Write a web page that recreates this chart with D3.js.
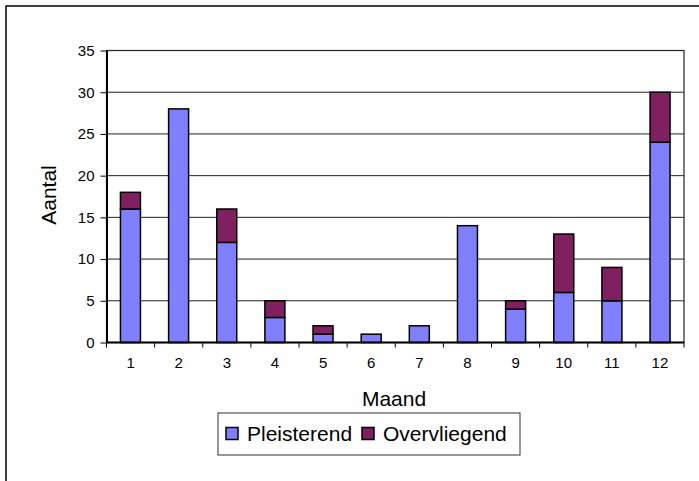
<!DOCTYPE html>
<html>
<head>
<meta charset="utf-8">
<script src="https://cdn.jsdelivr.net/npm/d3@7"></script>
<style>
  body { margin: 0; background: #fff; }
  text { font-family: "Liberation Sans", Arial, sans-serif; fill: #000; }
</style>
</head>
<body>
<div id="chart"></div>
<script>
const months = ["1", "2", "3", "4", "5", "6", "7", "8", "9", "10", "11", "12"];
const pleisterend = [16, 28, 12, 3, 1, 1, 2, 14, 4, 6, 5, 24];
const overvliegend = [2, 0, 4, 2, 1, 0, 0, 0, 1, 7, 4, 6];
const seriesNames = ["Pleisterend", "Overvliegend"];
const seriesColors = ["#8080ff", "#802060"];
const yTicks = [0, 5, 10, 15, 20, 25, 30, 35];

const width = 699, height = 481;
const margin = {top: 50.5, right: 15, bottom: 138.5, left: 106.5};
const innerW = width - margin.left - margin.right;
const innerH = height - margin.top - margin.bottom;

const svg = d3.select("#chart").append("svg")
    .attr("width", width)
    .attr("height", height);

// outer chart border (runs off the right and bottom edge)
svg.append("rect")
    .attr("x", 6).attr("y", 6)
    .attr("width", 720).attr("height", 500)
    .attr("fill", "none")
    .attr("stroke", "#000")
    .attr("stroke-width", 1.5);

const g = svg.append("g")
    .attr("transform", "translate(" + margin.left + "," + margin.top + ")");

const x = d3.scaleBand().domain(months).range([0, innerW]).paddingInner(0.585).paddingOuter(0.29);
const band = d3.scaleBand().domain(months).range([0, innerW]);
const y = d3.scaleLinear().domain([0, 35]).range([innerH, 0]);

// gridlines
g.selectAll(".grid")
    .data(yTicks.filter(d => d > 0 && d < 35))
    .enter().append("line")
    .attr("x1", 0).attr("x2", innerW)
    .attr("y1", d => y(d)).attr("y2", d => y(d))
    .attr("stroke", "#222")
    .attr("stroke-width", 1);

// plot frame
g.append("rect")
    .attr("width", innerW).attr("height", innerH)
    .attr("fill", "none")
    .attr("stroke", "#222")
    .attr("stroke-width", 1.2);

const data = months.map((m, i) => ({month: m, Pleisterend: pleisterend[i], Overvliegend: overvliegend[i]}));
const stacked = d3.stack().keys(seriesNames)(data);

stacked.forEach((layer, li) => {
    g.selectAll(".bar" + li)
        .data(layer.filter(d => d[1] > d[0]))
        .enter().append("rect")
        .attr("x", d => x(d.data.month))
        .attr("width", x.bandwidth())
        .attr("y", d => y(d[1]))
        .attr("height", d => y(d[0]) - y(d[1]))
        .attr("fill", seriesColors[li])
        .attr("stroke", "#000")
        .attr("stroke-width", 1.5);
});

// y axis
const yAxis = g.append("g")
    .call(d3.axisLeft(y).tickValues(yTicks).tickSize(6).tickSizeOuter(0).tickPadding(6));
yAxis.select(".domain").attr("stroke", "#000").attr("stroke-width", 2);
yAxis.selectAll(".tick line").attr("stroke", "#000");
yAxis.selectAll("text").style("font-size", "15px").attr("font-family", null);

// x axis: ticks at band boundaries
const xAxisG = g.append("g").attr("transform", "translate(0," + innerH + ")");
xAxisG.append("line")
    .attr("x1", 0).attr("x2", innerW)
    .attr("stroke", "#000").attr("stroke-width", 2);
xAxisG.selectAll(".xtick")
    .data(months.concat(["end"]))
    .enter().append("line")
    .attr("x1", (d, i) => i * band.step())
    .attr("x2", (d, i) => i * band.step())
    .attr("y1", 0).attr("y2", 5)
    .attr("stroke", "#000");
xAxisG.selectAll(".xlabel")
    .data(months)
    .enter().append("text")
    .attr("x", d => band(d) + band.bandwidth() / 2)
    .attr("y", 25)
    .attr("text-anchor", "middle")
    .style("font-size", "15px")
    .text(d => d);

// axis titles
svg.append("text")
    .attr("x", 394)
    .attr("y", 406)
    .attr("text-anchor", "middle")
    .style("font-size", "21px")
    .text("Maand");

svg.append("text")
    .attr("transform", "translate(56,195) rotate(-90)")
    .attr("text-anchor", "middle")
    .style("font-size", "21px")
    .text("Aantal");

// legend
const legend = svg.append("g").attr("transform", "translate(218,413)");
legend.append("rect")
    .attr("width", 302).attr("height", 42)
    .attr("fill", "#fff")
    .attr("stroke", "#333")
    .attr("stroke-width", 1);

const legendX = [8, 144];
seriesNames.forEach((name, i) => {
    legend.append("rect")
        .attr("x", legendX[i]).attr("y", 14.5)
        .attr("width", 12).attr("height", 12)
        .attr("fill", seriesColors[i])
        .attr("stroke", "#000")
        .attr("stroke-width", 1.5);
    legend.append("text")
        .attr("x", legendX[i] + 21)
        .attr("y", 28)
        .style("font-size", "21px")
        .text(name);
});
</script>
</body>
</html>
